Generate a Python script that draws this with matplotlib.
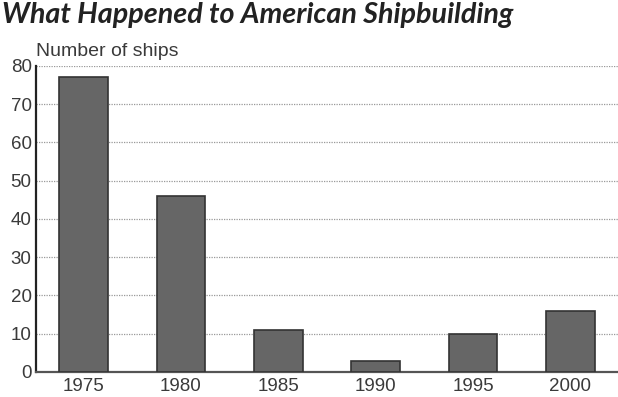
import matplotlib.pyplot as plt

years = ["1975", "1980", "1985", "1990", "1995", "2000"]
ships = [77, 46, 11, 3, 10, 16]
yticks = [0, 10, 20, 30, 40, 50, 60, 70, 80]

fig = plt.figure(figsize=(6.18, 3.97), dpi=100)
ax = fig.add_axes([0.058, 0.063, 0.942, 0.771])

x = range(len(years))
ax.bar(x, ships, width=0.5, color="#666666", edgecolor="#333333", linewidth=1.2, zorder=3)

ax.set_xlim(-0.49, 5.49)
ax.set_ylim(0, 80)
ax.set_yticks(yticks)
ax.set_xticks(list(x))
ax.set_xticklabels(years)

ax.grid(axis="y", linestyle=(0, (1, 1)), color="#999999", linewidth=0.9, zorder=0)
for s in ["top", "right"]:
    ax.spines[s].set_visible(False)
ax.spines["left"].set_color("#222222")
ax.spines["left"].set_linewidth(1.6)
ax.spines["bottom"].set_color("#555555")
ax.spines["bottom"].set_linewidth(1.6)
ax.tick_params(axis="both", length=0, labelsize=13.5, labelcolor="#3a3a3a",
               labelfontfamily="Liberation Sans")
ax.tick_params(axis="y", pad=3)
ax.tick_params(axis="x", pad=4)

fig.text(0.058, 0.848, "Number of ships", fontsize=14, color="#3a3a3a",
         family="Liberation Sans", va="bottom")
fig.text(0.003, 0.962, "What Happened to American Shipbuilding", fontsize=20.7,
         family="Lato", weight="bold", style="italic", color="#222222", va="center")

fig.savefig("out.png", dpi=100)
